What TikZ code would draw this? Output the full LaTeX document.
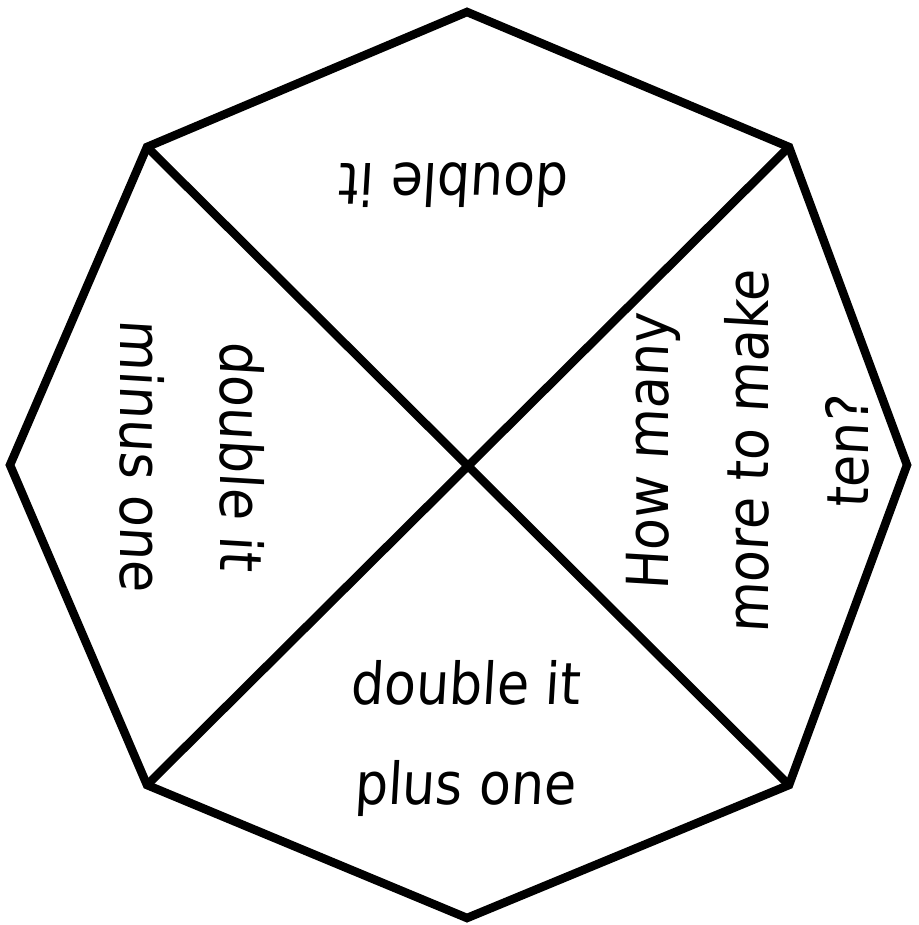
\documentclass[tikz,border=0pt]{standalone}
\usepackage{fontspec}
\setmainfont{DejaVu Sans Condensed}[FakeSlant=0.06]
\begin{document}
\begin{tikzpicture}[x=1pt,y=-1pt,
  edge/.style={line width=8.5pt,line join=miter,black},
  lbl/.style={font=\fontsize{58}{100}\selectfont,align=center,inner sep=0pt}]
\useasboundingbox (0,0) rectangle (918,925);
\coordinate (T) at (467,12);
\coordinate (TR) at (789,147);
\coordinate (R) at (907,465);
\coordinate (BR) at (789,785);
\coordinate (B) at (467,918);
\coordinate (BL) at (147,785);
\coordinate (L) at (10,465);
\coordinate (TL) at (147,147);
\draw[edge] (T) -- (TR) -- (R) -- (BR) -- (B) -- (BL) -- (L) -- (TL) -- cycle;
\draw[edge] (TL) -- (BR);
\draw[edge] (TR) -- (BL);
\node[lbl,rotate=180] (top) at (455,185) {double it};
\node[lbl] (bot) at (465,738) {double it\\plus one};
\node[lbl,rotate=90] (right) at (748,452) {How many\\more to make\\ten?};
\node[lbl,rotate=-90] (left) at (192,456) {double it\\minus one};
\end{tikzpicture}
\end{document}
